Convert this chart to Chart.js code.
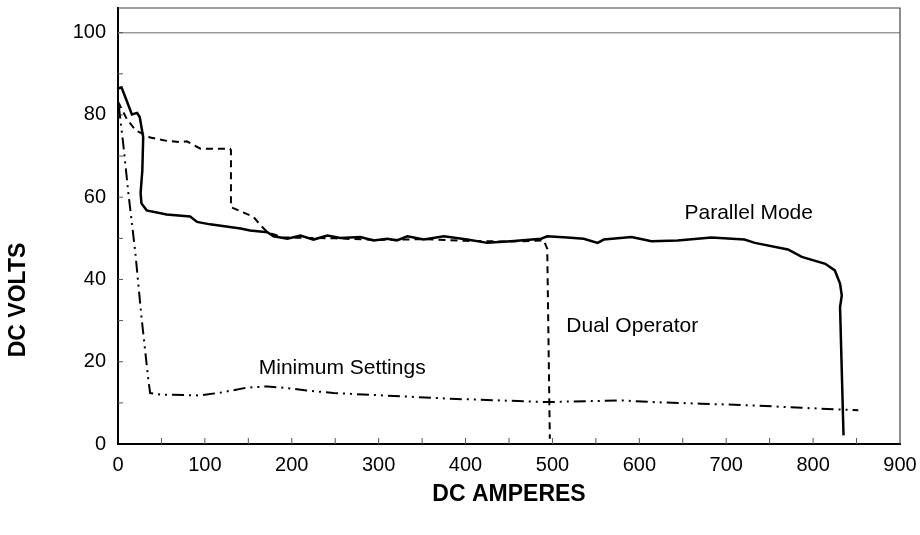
<!DOCTYPE html>
<html>
<head>
<meta charset="utf-8">
<script src="https://cdn.jsdelivr.net/npm/chart.js@4.4.1/dist/chart.umd.min.js"></script>
<style>
  html, body { margin: 0; padding: 0; background: #fff; }
  #wrap { width: 920px; height: 535px; }
</style>
</head>
<body>
<div id="wrap"><canvas id="chart1"></canvas></div>
<script>
// 축 눈금
const xTicks = [0, 100, 200, 300, 400, 500, 600, 700, 800, 900];
const yTicks = [0, 20, 40, 60, 80, 100];

// Parallel Mode (실선)
const parallelAmps  = [0, 4, 9, 16, 22, 25, 29, 28, 26, 27, 33, 56, 83, 91, 106, 141, 152, 172, 179, 195, 210, 225, 241, 256, 279, 294, 310, 321, 333, 352, 375, 402, 425, 452, 487, 494, 517, 536, 552, 559, 591, 614, 644, 683, 721, 733, 771, 787, 814, 825, 831, 833, 831, 835];
const parallelVolts = [86.4, 86.7, 84, 80.1, 80.5, 79.5, 74.6, 66.5, 61, 58.5, 56.8, 55.8, 55.3, 54, 53.4, 52.4, 51.9, 51.5, 50.5, 49.9, 50.7, 49.7, 50.7, 50.1, 50.3, 49.5, 49.9, 49.5, 50.5, 49.7, 50.5, 49.7, 48.9, 49.3, 49.9, 50.5, 50.2, 49.9, 48.9, 49.7, 50.3, 49.3, 49.5, 50.2, 49.7, 48.9, 47.3, 45.5, 43.8, 42.2, 39, 36.1, 33.3, 2.1];

// Dual Operator (점선)
const dualAmps  = [0, 10, 20, 37, 56, 72, 79, 95, 129, 130, 130, 156, 164, 172, 190, 250, 300, 350, 400, 450, 490, 494, 497];
const dualVolts = [83.2, 79.1, 76.3, 74.5, 73.7, 73.4, 73.6, 71.8, 71.8, 71.4, 57.6, 55.2, 53.2, 51.5, 50.2, 50, 49.6, 49.8, 49.4, 49.2, 49.5, 47.5, 1.3];

// Minimum Settings (일점쇄선)
const minAmps  = [1, 6, 12, 20, 27, 35, 37, 50, 95, 121, 148, 172, 195, 217, 248, 383, 494, 580, 614, 671, 729, 787, 852];
const minVolts = [82, 73, 60.9, 46.4, 30.9, 15.5, 12.4, 12, 11.8, 12.6, 13.7, 14, 13.6, 13, 12.4, 11, 10.2, 10.6, 10.2, 9.8, 9.4, 8.8, 8.2];

// 곡선 옆 글자
const noteTexts = ['Parallel Mode', 'Dual Operator', 'Minimum Settings'];
const noteAmps  = [652, 516, 162];
const noteVolts = [56.2, 28.7, 18.4];

function toPoints(xs, ys) {
    return xs.map((v, i) => ({ x: v, y: ys[i] }));
}

const decorPlugin = {
    id: 'decor',
    beforeDatasetsDraw(chart) {
        const { ctx, chartArea: a, scales: { x, y } } = chart;
        ctx.save();
        // 100 위치의 회색 선
        const y100 = y.getPixelForValue(100);
        ctx.strokeStyle = '#9a9a9a';
        ctx.lineWidth = 1.5;
        ctx.beginPath();
        ctx.moveTo(a.left, y100);
        ctx.lineTo(a.right, y100);
        ctx.stroke();
        // 위, 오른쪽 테두리
        ctx.strokeStyle = '#444';
        ctx.lineWidth = 1.2;
        ctx.beginPath();
        ctx.moveTo(a.left, a.top);
        ctx.lineTo(a.right, a.top);
        ctx.lineTo(a.right, a.bottom);
        ctx.stroke();
        // 안쪽 눈금
        ctx.strokeStyle = '#555';
        ctx.lineWidth = 1;
        ctx.beginPath();
        for (let v = 10; v <= 100; v += 10) {
            const py = y.getPixelForValue(v);
            ctx.moveTo(a.left, py);
            ctx.lineTo(a.left + 5, py);
        }
        for (let v = 50; v < 900; v += 50) {
            const px = x.getPixelForValue(v);
            ctx.moveTo(px, a.bottom);
            ctx.lineTo(px, a.bottom - 6);
        }
        ctx.stroke();
        ctx.restore();
    },
    afterDraw(chart) {
        const { ctx, chartArea: a, scales: { x, y } } = chart;
        ctx.save();
        ctx.fillStyle = '#000';
        ctx.textBaseline = 'middle';
        ctx.font = '21px "Liberation Sans", Arial, sans-serif';
        ctx.textAlign = 'left';
        noteTexts.forEach((t, i) => {
            ctx.fillText(t, x.getPixelForValue(noteAmps[i]), y.getPixelForValue(noteVolts[i]));
        });
        // 축 제목
        ctx.font = 'bold 23px "Liberation Sans", Arial, sans-serif';
        ctx.textAlign = 'center';
        ctx.fillText('DC AMPERES', (a.left + a.right) / 2, 495);
        ctx.translate(19, 300);
        ctx.rotate(-Math.PI / 2);
        ctx.fillText('DC VOLTS', 0, 0);
        ctx.restore();
    }
};

const tickFont = { family: '"Liberation Sans", Arial, sans-serif', size: 20 };

new Chart(document.getElementById('chart1'), {
    type: 'scatter',
    data: {
        datasets: [{
            label: 'Parallel Mode',
            data: toPoints(parallelAmps, parallelVolts),
            showLine: true,
            borderColor: '#000',
            borderWidth: 2.5,
            pointRadius: 0,
            tension: 0
        }, {
            label: 'Dual Operator',
            data: toPoints(dualAmps, dualVolts),
            showLine: true,
            borderColor: '#000',
            borderWidth: 2,
            borderDash: [7, 5],
            pointRadius: 0,
            tension: 0
        }, {
            label: 'Minimum Settings',
            data: toPoints(minAmps, minVolts),
            showLine: true,
            borderColor: '#000',
            borderWidth: 2,
            borderDash: [12, 5, 2, 5, 2, 5],
            pointRadius: 0,
            tension: 0
        }]
    },
    options: {
        responsive: true,
        maintainAspectRatio: false,
        animation: false,
        layout: { padding: { top: 8, right: 20, bottom: 0, left: 0 } },
        plugins: {
            legend: { display: false },
            tooltip: { enabled: false }
        },
        scales: {
            x: {
                type: 'linear',
                min: 0,
                max: 900,
                afterBuildTicks: s => { s.ticks = xTicks.map(v => ({ value: v })); },
                afterFit: s => { s.height = 91; s.paddingLeft = 0; s.paddingRight = 0; },
                grid: { display: false, drawTicks: false },
                border: { display: true, color: '#000', width: 2 },
                ticks: { color: '#000', font: tickFont, padding: 9, maxRotation: 0 }
            },
            y: {
                type: 'linear',
                min: 0,
                max: 106,
                afterBuildTicks: s => { s.ticks = yTicks.map(v => ({ value: v })); },
                afterFit: s => { s.width = 118; s.paddingTop = 0; s.paddingBottom = 0; },
                grid: { display: false, drawTicks: false },
                border: { display: true, color: '#000', width: 2 },
                ticks: { color: '#000', font: tickFont, padding: 12 }
            }
        }
    },
    plugins: [decorPlugin]
});
</script>
</body>
</html>
